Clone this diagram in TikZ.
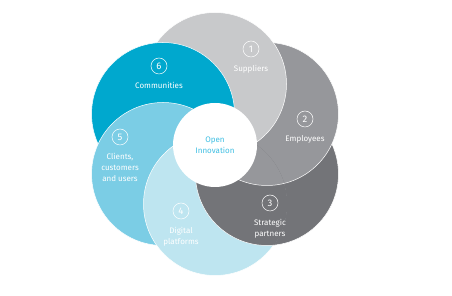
\documentclass[tikz,border=0pt]{standalone}
\usepackage{fontspec}
\setmainfont{Fira Sans}
\usetikzlibrary{positioning}
\definecolor{suppgray}{HTML}{C8C9CB}
\definecolor{empgray}{HTML}{96979B}
\definecolor{partgray}{HTML}{737478}
\definecolor{digiblue}{HTML}{BEE5F0}
\definecolor{clientblue}{HTML}{7BCDE5}
\definecolor{commblue}{HTML}{00A8CE}
\definecolor{opencyan}{HTML}{3FBFE3}

\begin{document}
\begin{tikzpicture}[x=1pt,y=1pt,font=\fontsize{8}{11}\selectfont,node distance=8pt,
  petal/.style={fill=#1,draw=white,line width=.5pt},
  num/.style={circle,draw=white,line width=.5pt,minimum size=16pt,inner sep=0pt,text=white,font=\fontsize{9.5}{9.5}\selectfont},
  lbl/.style={align=center,text=white,inner sep=0pt}]
\useasboundingbox (0,0) rectangle (452,296);
\coordinate (o) at (215,152);
\foreach \a/\n in {90/1,30/2,-30/3,-90/4,-150/5,150/6}
  \coordinate (c\n) at ([shift={(\a:60)}]o);
% petals, each one tucked under the next
\path[petal=partgray] (c3) circle (71.5);
\path[petal=empgray] (c2) circle (71.5);
\path[petal=suppgray] (c1) circle (71.5);
\path[petal=commblue] (c6) circle (71.5);
\path[petal=clientblue] (c5) circle (71.5);
\path[petal=digiblue] (c4) circle (71.5);
\begin{scope}
  \clip (c4) circle (72.2);
  \path[petal=partgray] (c3) circle (71.5);
  \path[petal=empgray] (c2) circle (71.5);
\end{scope}
\node[circle,fill=white,minimum size=84pt,align=center,text=opencyan] (hub) at (215,151) {Open\\Innovation};
% numbers and labels
\node[num] (n1) at (251,247) {1};
\node[lbl,below=of n1] (t1) {Suppliers};
\node[num] (n2) at (305,177) {2};
\node[lbl,below=of n2] (t2) {Employees};
\node[num] (n3) at (270,93) {3};
\node[lbl,below=of n3] (t3) {Strategic\\partners};
\node[num] (n4) at (181,85) {4};
\node[lbl,below=of n4] (t4) {Digital\\platforms};
\node[num] (n5) at (120,159) {5};
\node[lbl,below=of n5] (t5) {Clients,\\customers\\and users};
\node[num] (n6) at (159,230) {6};
\node[lbl,below=of n6] (t6) {Communities};
\end{tikzpicture}
\end{document}
